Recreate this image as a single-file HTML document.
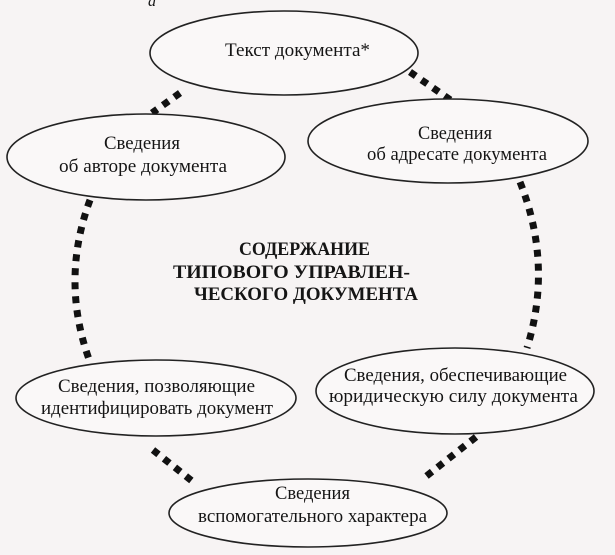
<!DOCTYPE html>
<html><head><meta charset="utf-8"><style>
html,body{margin:0;padding:0;background:#f7f4f4;}
svg{display:block;}
text{font-family:"Liberation Serif",serif;font-size:19px;fill:#151515;}
.b{font-weight:bold;}
</style></head><body>
<svg width="615" height="555" viewBox="0 0 615 555" xmlns="http://www.w3.org/2000/svg">
<rect width="615" height="555" fill="#f7f4f4"/>
<text x="148" y="6" font-style="italic" style="font-size:16px">а</text>
<g fill="none" stroke="#111" stroke-width="7" stroke-dasharray="7 7">
<path d="M180 93 L152 113"/>
<path d="M410 72 L452 101"/>
<path d="M90 200 Q60 281 90 362"/>
<path d="M520 182 Q553 265 527 348"/>
<path d="M153 450 L192 481"/>
<path d="M476 437 L424 478"/>
</g>
<g fill="#faf8f8" stroke="#222" stroke-width="1.6">
<ellipse cx="284" cy="53" rx="134" ry="42"/>
<ellipse cx="146" cy="157" rx="139" ry="43"/>
<ellipse cx="448" cy="141" rx="140" ry="42"/>
<ellipse cx="156" cy="398" rx="140" ry="38"/>
<ellipse cx="455" cy="391" rx="139" ry="43"/>
<ellipse cx="308" cy="513" rx="139" ry="34"/>
</g>
<text x="225" y="56" textLength="145" lengthAdjust="spacingAndGlyphs">Текст документа*</text>
<text x="104" y="149" textLength="76" lengthAdjust="spacingAndGlyphs">Сведения</text>
<text x="59" y="172" textLength="168" lengthAdjust="spacingAndGlyphs">об авторе документа</text>
<text x="418" y="139" textLength="74" lengthAdjust="spacingAndGlyphs">Сведения</text>
<text x="367" y="160" textLength="180" lengthAdjust="spacingAndGlyphs">об адресате документа</text>
<text class="b" x="239" y="255" textLength="131" lengthAdjust="spacingAndGlyphs">СОДЕРЖАНИЕ</text>
<text class="b" x="173" y="278" textLength="237" lengthAdjust="spacingAndGlyphs">ТИПОВОГО УПРАВЛЕН-</text>
<text class="b" x="194" y="300" textLength="224" lengthAdjust="spacingAndGlyphs">ЧЕСКОГО ДОКУМЕНТА</text>
<text x="58" y="392" textLength="197" lengthAdjust="spacingAndGlyphs">Сведения, позволяющие</text>
<text x="41" y="414" textLength="232" lengthAdjust="spacingAndGlyphs">идентифицировать документ</text>
<text x="344" y="381" textLength="223" lengthAdjust="spacingAndGlyphs">Сведения, обеспечивающие</text>
<text x="329" y="402" textLength="249" lengthAdjust="spacingAndGlyphs">юридическую силу документа</text>
<text x="275" y="499" textLength="75" lengthAdjust="spacingAndGlyphs">Сведения</text>
<text x="198" y="522" textLength="229" lengthAdjust="spacingAndGlyphs">вспомогательного характера</text>
</svg>
</body></html>
